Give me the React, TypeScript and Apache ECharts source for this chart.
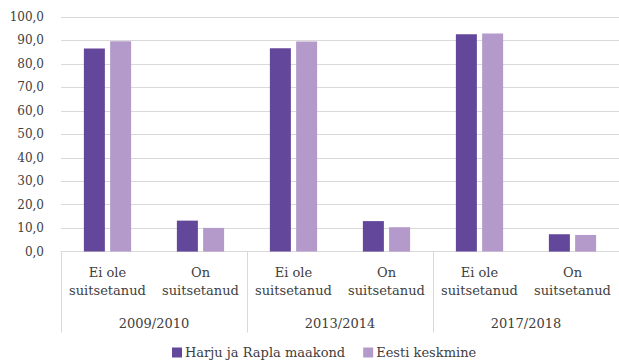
import React, { useEffect, useRef } from "react";
import * as echarts from "echarts";

const groups = ["2009/2010", "2013/2014", "2017/2018"];
const categories = [
  "Ei ole\nsuitsetanud",
  "On\nsuitsetanud",
  "Ei ole\nsuitsetanud",
  "On\nsuitsetanud",
  "Ei ole\nsuitsetanud",
  "On\nsuitsetanud",
];
const harjuRapla = [86.6, 13.2, 86.7, 13.0, 92.6, 7.4];
const eestiKeskmine = [89.7, 10.1, 89.6, 10.4, 93.0, 7.1];
const seriesNames = ["Harju ja Rapla maakond", "Eesti keskmine"];

const FONT = "DejaVu Serif";
const TEXT = "#404040";
const GRID = "#d9d9d9";

export default function App() {
  const ref = useRef<HTMLDivElement>(null);
  useEffect(() => {
    if (!ref.current) return;
    const chart = echarts.init(ref.current, null, { renderer: "svg" });
    chart.setOption({
      animation: false,
      textStyle: { fontFamily: FONT, color: TEXT },
      grid: { left: 61, right: -2, top: 17, bottom: 111.4, containLabel: false },
      legend: {
        data: seriesNames,
        left: 172,
        top: 346,
        padding: 0,
        icon: "rect",
        itemWidth: 10,
        itemHeight: 10,
        itemGap: 18,
        textStyle: { fontFamily: FONT, fontSize: 13, color: TEXT, padding: [0, 0, 0, -2] },
      },
      xAxis: [
        {
          type: "category",
          data: categories,
          position: "bottom",
          axisLine: { show: true, lineStyle: { color: GRID, width: 1 } },
          axisTick: { show: false },
          axisLabel: {
            fontFamily: FONT,
            fontSize: 13,
            color: TEXT,
            lineHeight: 18,
            margin: 12,
            interval: 0,
          },
        },
        {
          type: "category",
          data: groups,
          position: "bottom",
          axisLine: { show: false },
          axisTick: { show: true, length: 81, lineStyle: { color: GRID, width: 1 } },
          axisLabel: {
            fontFamily: FONT,
            fontSize: 13,
            color: TEXT,
            lineHeight: 18,
            margin: 63,
            interval: 0,
          },
        },
      ],
      yAxis: {
        type: "value",
        min: 0,
        max: 100,
        interval: 10,
        axisLine: { show: false },
        axisTick: { show: false },
        splitLine: { lineStyle: { color: GRID, width: 1 } },
        axisLabel: {
          fontFamily: FONT,
          fontSize: 12,
          color: TEXT,
          margin: 17,
          formatter: (v: number) => v.toFixed(1).replace(".", ","),
        },
      },
      series: [
        {
          name: seriesNames[0],
          type: "bar",
          xAxisIndex: 0,
          data: harjuRapla,
          barWidth: 21,
          barGap: "25%",
          itemStyle: { color: "#63479B" },
        },
        {
          name: seriesNames[1],
          type: "bar",
          xAxisIndex: 0,
          data: eestiKeskmine,
          barWidth: 21,
          barGap: "25%",
          itemStyle: { color: "#B49ACA" },
        },
      ],
    });
    return () => chart.dispose();
  }, []);
  return (
    <div
      ref={ref}
      style={{ position: "fixed", left: 0, top: 0, width: 619, height: 363, background: "#fff" }}
    />
  );
}
